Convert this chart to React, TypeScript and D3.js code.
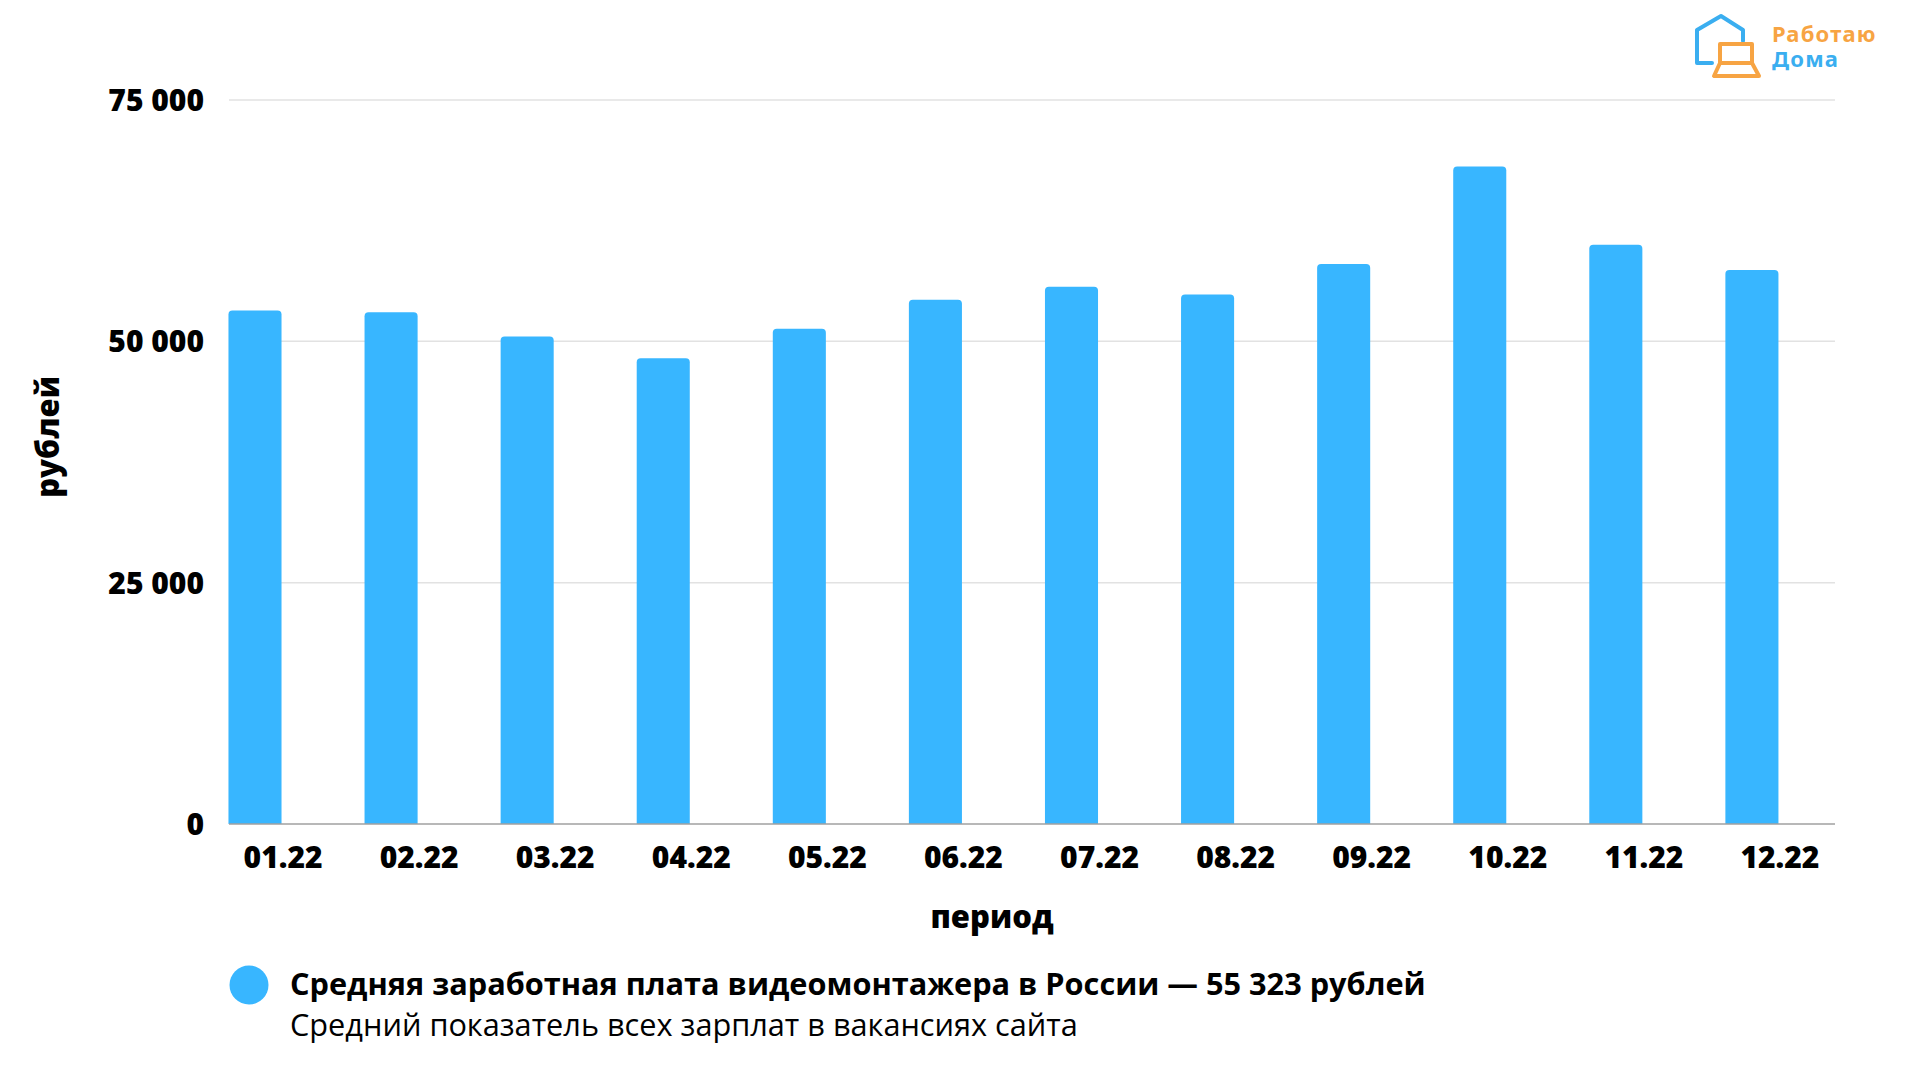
import React from "react";
import * as d3 from "d3";

const months = ["01.22", "02.22", "03.22", "04.22", "05.22", "06.22", "07.22", "08.22", "09.22", "10.22", "11.22", "12.22"];
const salary = [53200, 53000, 50500, 48250, 51300, 54300, 55650, 54850, 58000, 68100, 60000, 57400];
const yTicks = [0, 25000, 50000, 75000];
const legendTitle = "Средняя заработная плата видеомонтажера в России — 55 323 рублей";
const legendSub = "Средний показатель всех зарплат в вакансиях сайта";

const W = 1920;
const H = 1080;
const barColor = "#38b6ff";
const font = "'Open Sans', sans-serif";

const App = () => {
  // band per month; the bar sits in the left slot of the band, the label at its centre
  const x = d3.scaleBand<string>().domain(months).range([215, 1848]).padding(0);
  const slot = d3.scaleBand<string>().domain(["bar", "empty"]).range([0, x.bandwidth()]).paddingInner(0.054).paddingOuter(0.24);
  const y = d3.scaleLinear().domain([0, 75000]).range([824, 100]);
  const fmt = (v: number) => d3.format(",")(v).replace(/,/g, " ");
  const r = 4;

  const barPath = (x0: number, w: number, top: number, bottom: number) => {
    const p = d3.path();
    p.moveTo(x0, bottom);
    p.lineTo(x0, top + r);
    p.quadraticCurveTo(x0, top, x0 + r, top);
    p.lineTo(x0 + w - r, top);
    p.quadraticCurveTo(x0 + w, top, x0 + w, top + r);
    p.lineTo(x0 + w, bottom);
    p.closePath();
    return p.toString();
  };

  return (
    <svg width={W} height={H} style={{ position: "absolute", left: 0, top: 0, background: "#fff" }}>
      {/* grid */}
      {yTicks.filter((t) => t > 0).map((t) => (
        <line key={t} x1={229} x2={1835} y1={y(t)} y2={y(t)} stroke="#e2e2e2" strokeWidth={1.5} />
      ))}
      {yTicks.map((t) => (
        <text key={"l" + t} x={204} y={y(t) + 11} textAnchor="end" fontFamily={font} fontWeight={800} fontSize={30} fill="#000">
          {fmt(t)}
        </text>
      ))}
      {/* bars */}
      {months.map((m, i) => (
        <path
          key={m}
          d={barPath((x(m) as number) + (slot("bar") as number), slot.bandwidth(), y(salary[i]), y(0))}
          fill={barColor}
        />
      ))}
      <line x1={229} x2={1835} y1={y(0)} y2={y(0)} stroke="#a0a0a0" strokeWidth={1.5} />
      {months.map((m) => (
        <text key={"t" + m} x={(x(m) as number) + x.bandwidth() / 2} y={868} textAnchor="middle" fontFamily={font} fontWeight={800} fontSize={30} fill="#000">
          {m}
        </text>
      ))}
      <text x={992} y={928} textAnchor="middle" fontFamily={font} fontWeight={800} fontSize={31}>
        период
      </text>
      <text transform="translate(59,437) rotate(-90)" textAnchor="middle" fontFamily={font} fontWeight={800} fontSize={31}>
        рублей
      </text>
      {/* legend */}
      <circle cx={249} cy={985} r={19.5} fill={barColor} />
      <text x={290} y={995} fontFamily={font} fontWeight={700} fontSize={30.7} fill="#000">
        {legendTitle}
      </text>
      <text x={290} y={1036} fontFamily={font} fontWeight={400} fontSize={30.7} fill="#000">
        {legendSub}
      </text>
      {/* logo */}
      <g fill="none" strokeWidth={4} strokeLinejoin="round" strokeLinecap="round">
        <path d="M1712,63 L1697,63 L1697,30 L1721,16 L1743,30 L1743,41" stroke="#3aaef0" />
        <path d="M1720,63 L1720,44 L1752,44 L1752,63 M1720,63 L1714,76 L1759,76 L1752,63 Z M1728,63 L1744,63" stroke="#f7a443" />
      </g>
      <text fontFamily="'Noto Sans', sans-serif" fontWeight={700} fontSize={22} letterSpacing={1.2}>
        <tspan x={1772} y={42} fill="#f7a443">Работаю</tspan>
        <tspan x={1772} y={67} fill="#3aaef0">Дома</tspan>
      </text>
    </svg>
  );
};

export default App;
